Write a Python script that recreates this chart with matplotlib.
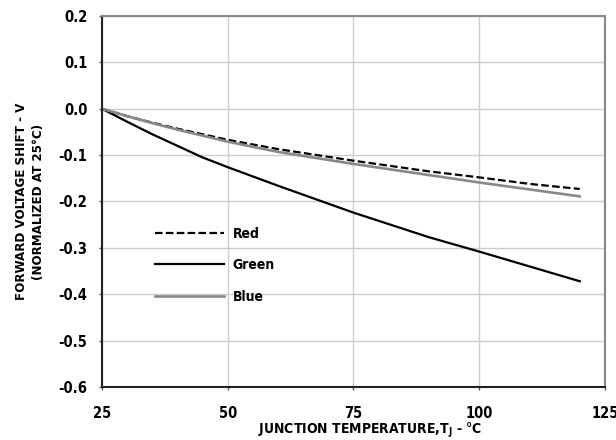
import matplotlib
matplotlib.use("Agg")
import matplotlib.pyplot as plt

# junction temperature (degC) and forward voltage shift (V), normalized at 25 degC
temp = [25, 30, 35, 40, 45, 50, 60, 75, 90, 100, 110, 120]
red = [0, -0.016, -0.030, -0.043, -0.055, -0.067, -0.087, -0.112, -0.135, -0.148, -0.162, -0.173]
green = [0, -0.028, -0.055, -0.080, -0.105, -0.126, -0.166, -0.224, -0.277, -0.308, -0.340, -0.372]
blue = [0, -0.016, -0.031, -0.045, -0.058, -0.071, -0.093, -0.119, -0.143, -0.159, -0.174, -0.189]

xticks = [25, 50, 75, 100, 125]
yticks = [0.2, 0.1, 0.0, -0.1, -0.2, -0.3, -0.4, -0.5, -0.6]

plt.rcParams["font.family"] = ["DejaVu Sans"]
plt.rcParams["font.stretch"] = "condensed"
plt.rcParams["font.weight"] = "bold"
plt.rcParams["axes.labelweight"] = "bold"
plt.rcParams["mathtext.default"] = "regular"

fig = plt.figure(figsize=(6.16, 4.4), dpi=100)
ax = fig.add_axes([0.1656, 0.1205, 0.8164, 0.8431])

ax.plot(temp, red, color="black", lw=1.6, ls=(0, (3.4, 1.5)), label="Red")
ax.plot(temp, green, color="black", lw=1.6, label="Green")
ax.plot(temp, blue, color="#888888", lw=1.9, label="Blue")

ax.set_xlim(25, 125)
ax.set_ylim(-0.6, 0.2)
ax.set_xticks(xticks)
ax.set_yticks(yticks)
ax.set_yticklabels([f"{v:.1f}" for v in yticks])
ax.grid(True, color="#cccccc", lw=1)
ax.set_axisbelow(True)

for s in ["left", "bottom"]:
    ax.spines[s].set_color("#222222")
    ax.spines[s].set_linewidth(1.5)
for s in ["top", "right"]:
    ax.spines[s].set_color("#888888")
    ax.spines[s].set_linewidth(1.5)

ax.tick_params(axis="both", direction="out", length=2.5, width=1, color="#555555",
               labelsize=10.5)
ax.tick_params(axis="y", pad=8)
ax.tick_params(axis="x", pad=11)

ax.set_xlabel(r"JUNCTION TEMPERATURE,T$_{J}$ - °C", fontsize=10)
ax.xaxis.set_label_coords(0.534, -0.116, transform=ax.transAxes)
ax.xaxis.label.set_va("center")
ax.set_ylabel("FORWARD VOLTAGE SHIFT - V\n(NORMALIZED AT 25°C)", fontsize=9.5,
              labelpad=10, linespacing=1.35)

leg = ax.legend(loc="upper left", bbox_to_anchor=(0.08, 0.465), frameon=False,
                fontsize=10, handlelength=5.0, handletextpad=0.6, labelspacing=1.25)

fig.savefig("out.png", dpi=100)
